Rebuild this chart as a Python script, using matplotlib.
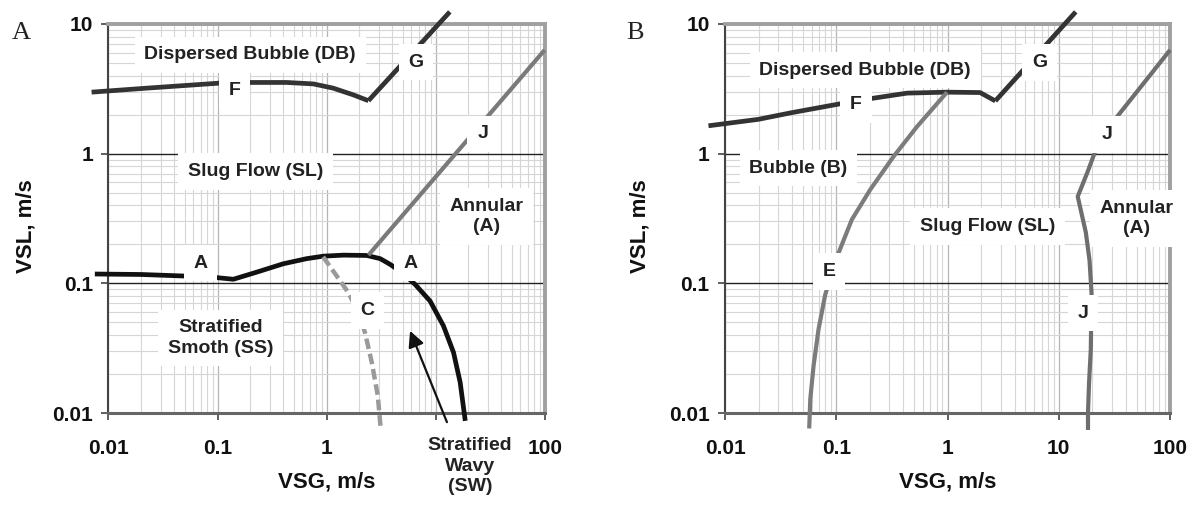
import matplotlib.pyplot as plt
from matplotlib.ticker import LogLocator, NullFormatter

plt.rcParams['font.family'] = ['Liberation Sans', 'DejaVu Sans']

# --- panel A: stratified / slug / annular / dispersed bubble boundaries
a_f_vsg = [0.007, 0.0224, 0.105, 0.199, 0.431, 0.757, 1.15, 1.76, 2.42]
a_f_vsl = [2.98, 3.2, 3.5, 3.54, 3.54, 3.45, 3.2, 2.84, 2.56]

a_g_vsg = [2.42, 13.5]
a_g_vsl = [2.56, 12.4]

a_a_vsg = [0.0075, 0.02, 0.0853, 0.1397, 0.229, 0.402, 0.658, 0.935, 1.43,
           2.34, 3.1, 3.83, 5.0, 6.49, 8.9, 11.8, 14.6, 16.8, 18.7]
a_a_vsl = [0.118, 0.117, 0.112, 0.1075, 0.122, 0.1416, 0.155, 0.162, 0.165,
           0.164, 0.155, 0.14, 0.12, 0.098, 0.073, 0.047, 0.0293, 0.0172,
           0.0087]

a_j_vsg = [2.42, 100]
a_j_vsl = [0.165, 6.3]

a_c_vsg = [0.93, 1.24, 1.585, 1.95, 2.25, 2.6, 2.95, 3.14]
a_c_vsl = [0.16, 0.1138, 0.0848, 0.06, 0.0418, 0.0245, 0.0136, 0.0075]

# --- panel B: bubble / slug / annular / dispersed bubble boundaries
b_f_vsg = [0.0071, 0.02, 0.0385, 0.116, 0.217, 0.434, 0.99, 1.96, 2.69]
b_f_vsl = [1.64, 1.84, 2.06, 2.45, 2.68, 2.93, 2.98, 2.96, 2.55]

b_g_vsg = [2.69, 14.2]
b_g_vsl = [2.55, 12.4]

b_e_vsg = [0.99, 0.533, 0.328, 0.202, 0.138, 0.105, 0.0796, 0.0693, 0.0625,
           0.0584, 0.0571]
b_e_vsl = [2.98, 1.62, 0.953, 0.528, 0.31, 0.172, 0.082, 0.0443, 0.0231,
           0.0128, 0.0076]

b_j_vsg = [100, 32.5, 21.5, 18.2, 14.8, 17.5, 18.9, 19.7, 19.4, 18.7, 18.3, 18.3]
b_j_vsl = [6.3, 1.87, 1.07, 0.728, 0.467, 0.247, 0.15, 0.084, 0.031, 0.017,
           0.01, 0.0074]

xticks = [0.01, 0.1, 1, 10, 100]
xtick_labels_a = ['0.01', '0.1', '1', '', '100']
xtick_labels_b = ['0.01', '0.1', '1', '10', '100']
yticks = [0.01, 0.1, 1, 10]
ytick_labels = ['0.01', '0.1', '1', '10']

fig = plt.figure(figsize=(11.96, 5.07), dpi=100)
ax_a = fig.add_axes([0.0907, 0.1854, 0.3647, 0.7673])
ax_b = fig.add_axes([0.6062, 0.1854, 0.3721, 0.7673])


def setup(ax, xlabels):
    ax.set_xscale('log')
    ax.set_yscale('log')
    ax.set_xlim(0.01, 100)
    ax.set_ylim(0.01, 10)
    ax.set_axisbelow(True)
    ax.set_xticks(xticks)
    ax.set_xticklabels(xlabels)
    ax.set_yticks(yticks)
    ax.set_yticklabels(ytick_labels)
    ax.xaxis.set_minor_locator(LogLocator(base=10, subs=range(2, 10)))
    ax.yaxis.set_minor_locator(LogLocator(base=10, subs=range(2, 10)))
    ax.xaxis.set_minor_formatter(NullFormatter())
    ax.yaxis.set_minor_formatter(NullFormatter())
    ax.tick_params(which='minor', length=0)
    ax.tick_params(which='major', length=5, width=1.2, color='#444',
                   labelsize=15, labelcolor='#111')
    ax.tick_params(axis='x', pad=14)
    ax.tick_params(axis='y', pad=6)
    for lab in ax.get_xticklabels() + ax.get_yticklabels():
        lab.set_fontweight('bold')
    ax.grid(which='minor', color='#d6d6d6', lw=0.8)
    ax.grid(which='major', axis='x', color='#b5b5b5', lw=0.9)
    ax.grid(which='major', axis='y', color='#222222', lw=1.0)
    for side in ('top', 'right'):
        ax.spines[side].set_color('#a0a0a0')
        ax.spines[side].set_linewidth(2.8)
    ax.spines['left'].set_color('#444')
    ax.spines['left'].set_linewidth(1.5)
    ax.spines['bottom'].set_color('#666')
    ax.spines['bottom'].set_linewidth(2.2)
    ax.set_xlabel('VSG, m/s', fontsize=16, fontweight='bold', color='#111',
                  va='center')
    ax.set_ylabel('VSL, m/s', fontsize=16, fontweight='bold', color='#111',
                  va='center')
    ax.xaxis.set_label_coords(0.5, -0.177)
    ax.yaxis.set_label_coords(-0.19, 0.48)


def curve(ax, x, y, color, lw=3.4, **kw):
    ax.plot(x, y, color=color, lw=lw, clip_on=False, zorder=3,
            solid_capstyle='butt', solid_joinstyle='round', **kw)


def label(ax, x, y, s, pad=0.5):
    ax.text(x, y, s, ha='center', va='center', fontsize=14, fontweight='bold',
            color='#222', linespacing=1.25, zorder=10, clip_on=False,
            bbox=dict(boxstyle='square,pad=%s' % pad, fc='white', ec='none'))


setup(ax_a, xtick_labels_a)
setup(ax_b, xtick_labels_b)

# panel A
curve(ax_a, a_f_vsg, a_f_vsl, '#333333')
curve(ax_a, a_g_vsg, a_g_vsl, '#333333')
curve(ax_a, a_a_vsg, a_a_vsl, '#111111')
curve(ax_a, a_j_vsg, a_j_vsl, '#7a7a7a', lw=3.0)
curve(ax_a, a_c_vsg, a_c_vsl, '#9a9a9a', lw=3.2, linestyle=(0, (2.4, 1.1)))
ax_a.annotate('', xy=(5.83, 0.043), xytext=(12.7, 0.0085),
              annotation_clip=False, zorder=4,
              arrowprops=dict(arrowstyle='-|>,head_length=0.6,head_width=0.3',
                              mutation_scale=16, color='#111', lw=1.6,
                              shrinkA=0, shrinkB=0))

label(ax_a, 0.199, 5.77, 'Dispersed Bubble (DB)')
label(ax_a, 0.143, 3.06, 'F')
label(ax_a, 6.6, 5.07, 'G')
label(ax_a, 27, 1.42, 'J')
label(ax_a, 0.224, 0.728, 'Slug Flow (SL)')
label(ax_a, 29.3, 0.327, 'Annular\n(A)')
label(ax_a, 0.070, 0.143, 'A')
label(ax_a, 5.93, 0.143, 'A')
label(ax_a, 2.37, 0.0618, 'C')
label(ax_a, 0.106, 0.0378, 'Stratified\nSmoth (SS)')
label(ax_a, 20.6, 0.0039, 'Stratified\nWavy\n(SW)', pad=0.2)

# panel B
curve(ax_b, b_f_vsg, b_f_vsl, '#333333')
curve(ax_b, b_g_vsg, b_g_vsl, '#333333')
curve(ax_b, b_e_vsg, b_e_vsl, '#7c7c7c', lw=3.0)
curve(ax_b, b_j_vsg, b_j_vsl, '#6e6e6e', lw=3.0)

label(ax_b, 0.182, 4.41, 'Dispersed Bubble (DB)')
label(ax_b, 6.69, 5.04, 'G')
label(ax_b, 0.15, 2.38, 'F')
label(ax_b, 27.3, 1.40, 'J')
label(ax_b, 0.0457, 0.773, 'Bubble (B)')
label(ax_b, 2.3, 0.274, 'Slug Flow (SL)')
label(ax_b, 50.2, 0.318, 'Annular\n(A)')
label(ax_b, 0.086, 0.123, 'E')
label(ax_b, 16.6, 0.059, 'J')

fig.text(0.0097, 0.923, 'A', fontsize=19, family='Liberation Serif',
         color='#222')
fig.text(0.524, 0.923, 'B', fontsize=19, family='Liberation Serif',
         color='#222')

fig.savefig('out.png', dpi=100, facecolor='white')
